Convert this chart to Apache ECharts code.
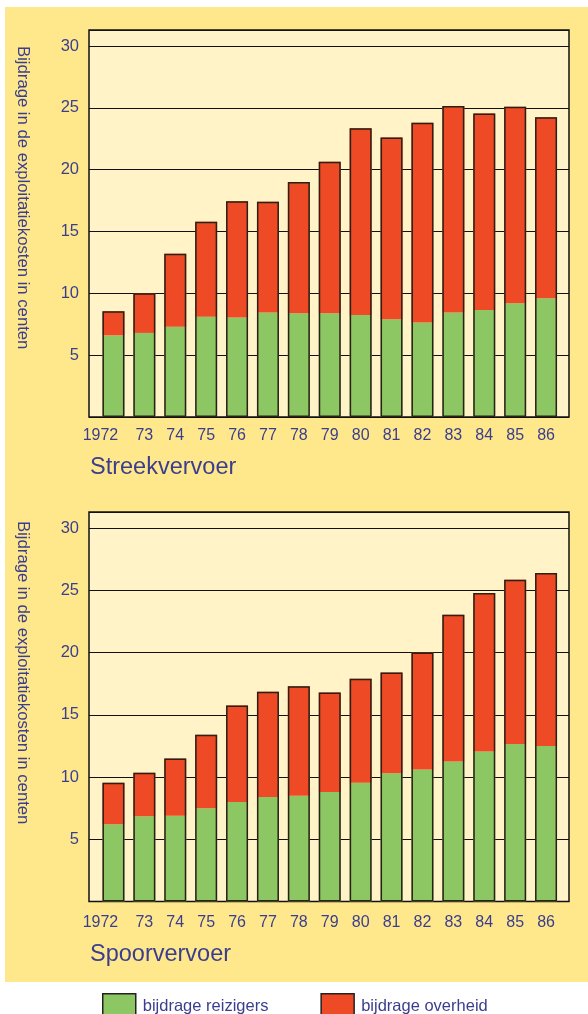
<!DOCTYPE html>
<html>
<head>
<meta charset="utf-8">
<script src="https://cdn.jsdelivr.net/npm/echarts@6/dist/echarts.min.js"></script>
<style>
  html, body { margin: 0; padding: 0; background: #fff; }
  #main { width: 588px; height: 1014px; }
</style>
</head>
<body>
<div id="main"></div>
<script>
// jaren op de x-as
var years = ['1972', '73', '74', '75', '76', '77', '78', '79', '80', '81', '82', '83', '84', '85', '86'];
// cijfers op de y-as
var yTicks = [5, 10, 15, 20, 25, 30];

// Streekvervoer (centen)
var streekReizigers = [6.6, 6.8, 7.3, 8.1, 8.05, 8.45, 8.4, 8.4, 8.25, 7.9, 7.65, 8.45, 8.65, 9.2, 9.6];
var streekOverheid  = [1.95, 3.2, 5.9, 7.7, 9.4, 8.95, 10.6, 12.25, 15.1, 14.7, 16.15, 16.7, 15.9, 15.9, 14.65];

// Spoorvervoer (centen)
var spoorReizigers = [6.2, 6.85, 6.9, 7.5, 8.0, 8.4, 8.5, 8.8, 9.55, 10.3, 10.6, 11.25, 12.05, 12.65, 12.5];
var spoorOverheid  = [3.35, 3.5, 4.6, 5.9, 7.75, 8.45, 8.8, 8.0, 8.35, 8.1, 9.4, 11.8, 12.75, 13.2, 13.9];

var ink = '#3b3e8e';
var green = '#8dc764';
var red = '#ee4a25';
var yMax = 31.3;
var font = 'Liberation Sans, Arial, sans-serif';

function frameY(idx) {
  return {
    gridIndex: idx, type: 'value', min: 0, max: yMax, interval: 5,
    axisLine: { show: false }, axisTick: { show: false },
    splitLine: { show: true, lineStyle: { color: '#111', width: 1 } },
    axisLabel: {
      margin: 10, fontSize: 16.5, color: ink, fontFamily: font, padding: [5, 0, 0, 0],
      formatter: function (v) { return yTicks.indexOf(v) >= 0 ? String(v) : ''; }
    }
  };
}
function barY(idx) {
  return { gridIndex: idx, type: 'value', min: 0, max: yMax, show: false, splitLine: { show: false } };
}
function barX(idx, margin) {
  return {
    gridIndex: idx, type: 'category', data: years,
    axisLine: { show: false }, axisTick: { show: false },
    axisLabel: {
      interval: 0, margin: margin, fontSize: 16, color: ink, fontFamily: font,
      formatter: function (v) { return v === '1972' ? '{f|1972}' : v; },
      rich: { f: { fontSize: 16, color: ink, fontFamily: font, padding: [0, 26, 0, 0] } }
    }
  };
}
function bars(name, data, color, xi, stack) {
  return {
    name: name, type: 'bar', stack: stack, xAxisIndex: xi, yAxisIndex: xi,
    barWidth: 22, data: data,
    itemStyle: { color: color, borderWidth: 0 }
  };
}
// zwarte omlijning om de hele staaf (reizigers + overheid)
function outline(a, b, xi) {
  return {
    name: 'omlijning', type: 'bar', xAxisIndex: xi, yAxisIndex: xi,
    barWidth: 22, barGap: '-100%', z: 3, silent: true,
    data: a.map(function (v, i) { return +(v + b[i]).toFixed(2); }),
    itemStyle: { color: 'rgba(0,0,0,0)', borderColor: '#2a2016', borderWidth: 1.5 }
  };
}
function vertLabel(y) {
  return {
    type: 'text', x: 23, y: y, rotation: -Math.PI / 2,
    style: { text: 'Bijdrage in de exploitatiekosten in centen', font: '16.7px ' + font, fill: ink,
             textAlign: 'left', textVerticalAlign: 'middle' }
  };
}
function title(text, y) {
  return {
    type: 'text', x: 90, y: y,
    style: { text: text, font: '23.5px ' + font, fill: ink, textAlign: 'left', textVerticalAlign: 'middle' }
  };
}

var myChart = echarts.init(document.getElementById('main'));
myChart.setOption({
  backgroundColor: '#ffffff',
  animation: false,
  graphic: [
    { type: 'rect', z: -10, shape: { x: 5, y: 7, width: 583, height: 975 }, style: { fill: '#ffe88c' } },
    vertLabel(46),
    vertLabel(521),
    title('Streekvervoer', 468),
    title('Spoorvervoer', 955)
  ],
  grid: [
    { left: 89, top: 30, width: 480, height: 387, show: true, backgroundColor: '#fff3c7', borderColor: '#111', borderWidth: 1.5 },
    { left: 98, top: 30, width: 463.5, height: 387 },
    { left: 89, top: 512, width: 480, height: 389.5, show: true, backgroundColor: '#fff3c7', borderColor: '#111', borderWidth: 1.5 },
    { left: 98, top: 512, width: 463.5, height: 389.5 }
  ],
  xAxis: [
    { gridIndex: 0, type: 'value', show: false, splitLine: { show: false } },
    barX(1, 11),
    { gridIndex: 2, type: 'value', show: false, splitLine: { show: false } },
    barX(3, 13)
  ],
  yAxis: [frameY(0), barY(1), frameY(2), barY(3)],
  legend: {
    left: 97, top: 988, itemWidth: 33, itemHeight: 26, itemGap: 52,
    icon: 'rect',
    itemStyle: { borderColor: '#222', borderWidth: 1.5 },
    textStyle: { fontSize: 16.5, color: ink, fontFamily: font, padding: [0, 0, 0, 2] },
    data: ['bijdrage reizigers', 'bijdrage overheid']
  },
  series: [
    bars('bijdrage reizigers', streekReizigers, green, 1, 'streek'),
    bars('bijdrage overheid', streekOverheid, red, 1, 'streek'),
    outline(streekReizigers, streekOverheid, 1),
    bars('bijdrage reizigers', spoorReizigers, green, 3, 'spoor'),
    bars('bijdrage overheid', spoorOverheid, red, 3, 'spoor'),
    outline(spoorReizigers, spoorOverheid, 3)
  ]
});
</script>
</body>
</html>
